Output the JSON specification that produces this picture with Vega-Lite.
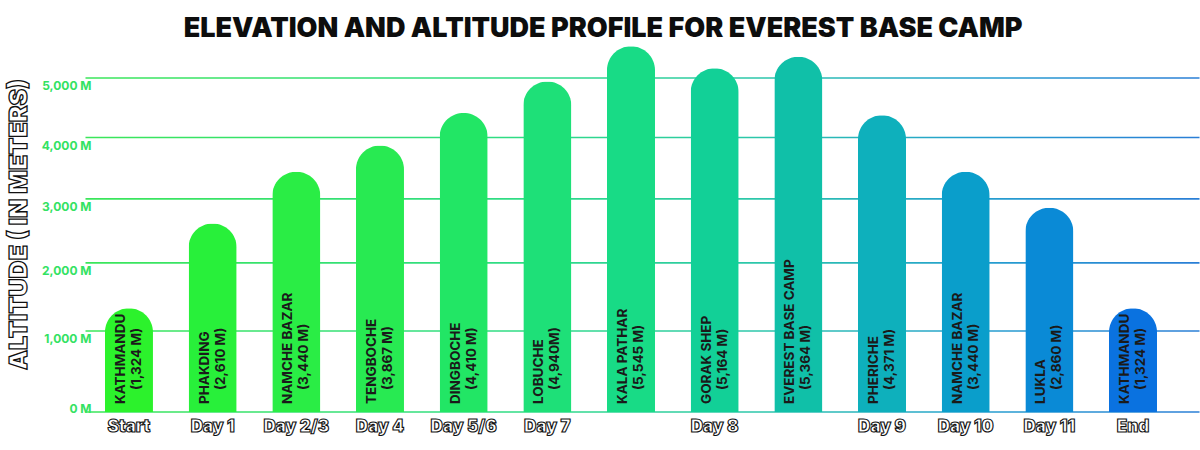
{
  "$schema": "https://vega.github.io/schema/vega-lite/v6.json",
  "width": 1200,
  "height": 450,
  "autosize": {"type": "fit", "contains": "padding"},
  "padding": {"left": 6, "top": 15, "right": 0, "bottom": 15},
  "background": "white",
  "title": {
    "text": "ELEVATION AND ALTITUDE PROFILE FOR EVEREST BASE CAMP",
    "font": "Inter",
    "fontSize": 27,
    "fontWeight": 900,
    "color": "#0d0d0d",
    "anchor": "middle",
    "frame": "bounds",
    "offset": -7
  },
  "datasets": {
    "stops": [
      {"i": 1, "day": "Start", "place": "KATHMANDU", "label": "(1,324 M)", "alt": 1324},
      {"i": 2, "day": "Day 1", "place": "PHAKDING", "label": "(2,610 M)", "alt": 2610},
      {"i": 3, "day": "Day 2/3", "place": "NAMCHE BAZAR", "label": "(3,440 M)", "alt": 3440},
      {"i": 4, "day": "Day 4", "place": "TENGBOCHE", "label": "(3,867 M)", "alt": 3867},
      {"i": 5, "day": "Day 5/6", "place": "DINGBOCHE", "label": "(4,410 M)", "alt": 4410},
      {"i": 6, "day": "Day 7", "place": "LOBUCHE", "label": "(4,940M)", "alt": 4940},
      {"i": 7, "day": "", "place": "KALA PATHAR", "label": "(5,545 M)", "alt": 5545},
      {"i": 8, "day": "Day 8", "place": "GORAK SHEP", "label": "(5,164 M)", "alt": 5164},
      {"i": 9, "day": "", "place": "EVEREST BASE CAMP", "label": "(5,364 M)", "alt": 5364},
      {"i": 10, "day": "Day 9", "place": "PHERICHE", "label": "(4,371 M)", "alt": 4371},
      {"i": 11, "day": "Day 10", "place": "NAMCHE BAZAR", "label": "(3,440 M)", "alt": 3440},
      {"i": 12, "day": "Day 11", "place": "LUKLA", "label": "(2,860 M)", "alt": 2860},
      {"i": 13, "day": "End", "place": "KATHMANDU", "label": "(1,324 M)", "alt": 1324}
    ],
    "grid": [
      {"alt": 0}, {"alt": 1000}, {"alt": 2000}, {"alt": 3000}, {"alt": 4000}, {"alt": 5000}
    ]
  },
  "encoding": {
    "y": {
      "field": "alt",
      "type": "quantitative",
      "scale": {"type": "pow", "exponent": 0.88, "domain": [0, 5720], "nice": false},
      "axis": {
        "title": "ALTITUDE ( IN METERS)",
        "values": [0, 1000, 2000, 3000, 4000, 5000],
        "labelExpr": "format(datum.value, ',') + ' M'",
        "grid": false,
        "domain": false,
        "ticks": false,
        "labelPadding": -6,
        "labelFont": "Inter",
        "labelFontSize": 12,
        "labelFontWeight": "bold",
        "labelColor": "#33e262",
        "labelBaseline": {"condition": {"test": "datum.value === 0", "value": "bottom"}, "value": "top"},
        "labelOffset": 3,
        "titleFont": "Inter",
        "titleFontSize": 25,
        "titleFontWeight": 900,
        "titleColor": "white",
        "titlePadding": 10
      }
    }
  },
  "layer": [
    {
      "data": {"name": "grid"},
      "mark": {
        "type": "tick",
        "size": 1114,
        "thickness": 1.6,
        "opacity": 1,
        "color": {
          "gradient": "linear",
          "x1": 0, "y1": 0, "x2": 1, "y2": 0,
          "stops": [
            {"offset": 0, "color": "#3be65a"},
            {"offset": 0.4, "color": "#2fdc86"},
            {"offset": 0.6, "color": "#2cc7aa"},
            {"offset": 0.8, "color": "#259fcf"},
            {"offset": 1, "color": "#2a7ed6"}
          ]
        }
      }
    },
    {
      "data": {"name": "stops"},
      "mark": {"type": "bar", "cornerRadiusEnd": 24},
      "encoding": {
        "x": {
          "field": "i",
          "type": "ordinal",
          "scale": {"paddingInner": 0.426, "paddingOuter": 0.376, "align": 0.317},
          "axis": null
        },
        "color": {
          "field": "i",
          "type": "ordinal",
          "scale": {
            "range": ["#2cf22c", "#28f03a", "#2aed45", "#28ea52", "#22e665", "#1ee078", "#18db86", "#12d097", "#10c0a8", "#0eb0bc", "#0a9ecb", "#0a8ad6", "#0a72e0"]
          },
          "legend": null
        }
      }
    },
    {
      "data": {"name": "stops"},
      "mark": {"type": "text", "angle": 270, "align": "left", "baseline": "middle", "dx": 8, "dy": -8, "font": "Inter", "fontSize": 13.5, "fontWeight": "bold", "color": "#1a1a1a"},
      "encoding": {
        "x": {"field": "i", "type": "ordinal", "axis": null},
        "y": {"datum": 0, "type": "quantitative"},
        "text": {"field": "place"}
      }
    },
    {
      "data": {"name": "stops"},
      "mark": {"type": "text", "angle": 270, "align": "left", "baseline": "middle", "dx": 22, "dy": 8, "font": "Inter", "fontSize": 13.5, "fontWeight": "bold", "color": "#1a1a1a"},
      "encoding": {
        "x": {"field": "i", "type": "ordinal", "axis": null},
        "y": {"datum": 0, "type": "quantitative"},
        "text": {"field": "label"}
      }
    },
    {
      "data": {"name": "stops"},
      "mark": {"type": "text", "align": "center", "baseline": "middle", "dy": 15, "font": "Inter", "fontSize": 17, "fontWeight": 900, "fill": "white", "stroke": "#111111", "strokeWidth": 1.1},
      "encoding": {
        "x": {"field": "i", "type": "ordinal", "axis": null},
        "y": {"datum": 0, "type": "quantitative"},
        "text": {"field": "day"}
      }
    }
  ],
  "config": {
    "view": {"stroke": null},
    "style": {"guide-title": {"stroke": "#111111", "strokeWidth": 1.3}}
  }
}
